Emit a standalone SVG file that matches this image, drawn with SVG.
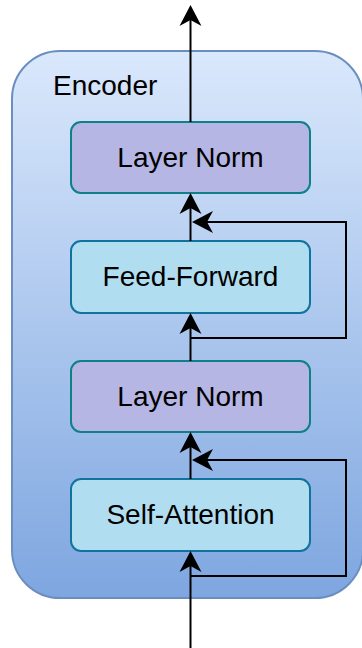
<svg xmlns="http://www.w3.org/2000/svg" width="362" height="648" viewBox="0 0 362 648">
<defs>
<linearGradient id="encGrad" x1="0" y1="0" x2="0" y2="1">
<stop offset="0" stop-color="#dae8fc"/>
<stop offset="1" stop-color="#7ea6e0"/>
</linearGradient>
<marker id="arr" markerUnits="userSpaceOnUse" viewBox="-12 -12 24 24" markerWidth="24" markerHeight="24" refX="0" refY="0" orient="auto">
<path d="M10,0 L-11,-11 L-5,0 L-11,11 Z" fill="#000"/>
</marker>
<style>
.lbl{font-family:"Liberation Sans",Arial,sans-serif;font-size:28px;fill:#000;text-anchor:middle}
.norm{fill:#b5b6e4;stroke:#0e8088;stroke-width:2}
.blk{fill:#b1ddf0;stroke:#10739e;stroke-width:2}
.con{fill:none;stroke:#000;stroke-width:2;marker-end:url(#arr)}
</style>
</defs>
<g id="encoder">
<rect x="12" y="51" width="351" height="547" rx="48" ry="48" fill="url(#encGrad)" stroke="#6c8ebf" stroke-width="2"/>
<text x="53" y="95" style="font-family:'Liberation Sans',Arial,sans-serif;font-size:28px;fill:#000">Encoder</text>
</g>
<g id="layernorm1">
<rect class="norm" x="71" y="122" width="239" height="71" rx="10"/>
<text class="lbl" x="190.5" y="166.8">Layer Norm</text>
</g>
<g id="feedforward">
<rect class="blk" x="71" y="241" width="239" height="72" rx="10"/>
<text class="lbl" x="190.5" y="286.3">Feed-Forward</text>
</g>
<g id="layernorm2">
<rect class="norm" x="71" y="361" width="239" height="71" rx="10"/>
<text class="lbl" x="190.5" y="405.8">Layer Norm</text>
</g>
<g id="selfattention">
<rect class="blk" x="71" y="479" width="239" height="72" rx="10"/>
<text class="lbl" x="190.5" y="524.3">Self-Attention</text>
</g>
<g id="connectors">
<path class="con" d="M190.5,122 V15"/>
<path class="con" d="M190.5,241 V203"/>
<path class="con" d="M190.5,338 H346 V222 H202"/>
<path class="con" d="M190.5,361 V323"/>
<path class="con" d="M190.5,479 V442"/>
<path class="con" d="M190.5,576 H346 V460 H202"/>
<path class="con" d="M190.5,648 V561"/>
</g>
</svg>
